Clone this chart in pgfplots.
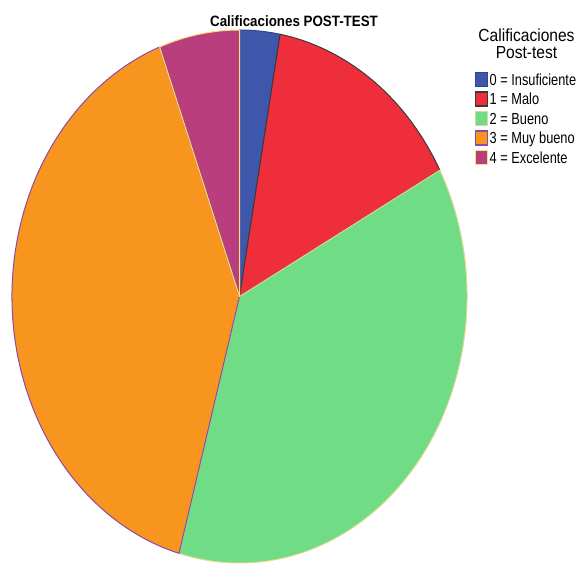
\documentclass[border=0pt]{standalone}
\usepackage{pgfplots}
\usepackage{pgfplotstable}
\usepackage{graphicx}
\usepackage{fontspec}
\setmainfont{Liberation Sans}
\pgfplotsset{compat=1.18}

\definecolor{cBlue}{HTML}{3F57AA}
\definecolor{eBlue}{HTML}{2E4590}
\definecolor{cRed}{HTML}{EE2F3B}
\definecolor{eRed}{HTML}{3A3A3A}
\definecolor{cGreen}{HTML}{70DC86}
\definecolor{eGreen}{HTML}{DCD88E}
\definecolor{cOrange}{HTML}{F7951F}
\definecolor{eOrange}{HTML}{8E4AA8}
\definecolor{cPurple}{HTML}{B93E7E}
\definecolor{ePurple}{HTML}{F2E27A}

\pgfplotstableread{
grade count
0 1
1 5
2 13
3 14
4 2
}\gradedata

\pgfplotstablegetelem{0}{count}\of\gradedata\let\nA\pgfplotsretval
\pgfplotstablegetelem{1}{count}\of\gradedata\let\nB\pgfplotsretval
\pgfplotstablegetelem{2}{count}\of\gradedata\let\nC\pgfplotsretval
\pgfplotstablegetelem{3}{count}\of\gradedata\let\nD\pgfplotsretval
\pgfplotstablegetelem{4}{count}\of\gradedata\let\nE\pgfplotsretval
\pgfmathsetmacro\tot{\nA+\nB+\nC+\nD+\nE}
\pgfmathsetmacro\aA{90}
\pgfmathsetmacro\aB{\aA-360*\nA/\tot}
\pgfmathsetmacro\aC{\aB-360*\nB/\tot}
\pgfmathsetmacro\aD{\aC-360*\nC/\tot}
\pgfmathsetmacro\aE{\aD-360*\nD/\tot}
\pgfmathsetmacro\aF{\aE-360*\nE/\tot}

% center and radii (in axis units = bp)
\def\cx{239.5}
\def\cy{269.5}
\def\rx{227.5}
\def\ry{266.5}

\newcommand\slice[4]{%
  \fill[fill=#1, draw=#2, line width=1bp, line join=round]
    (axis cs:\cx,\cy) --
    (axis cs:{\cx+\rx*cos(#3)},{\cy+\ry*sin(#3)})
    arc[start angle=#3, end angle=#4, x radius=\rx bp, y radius=\ry bp]
    -- cycle;}

\newcommand\legitem[4]{%
  \fill[fill=#1, draw=#2, line width=1.2bp] (axis cs:475.5,{#3-7}) rectangle (axis cs:487.5,{#3+7});
  \node[anchor=base west, inner sep=0pt] at (axis cs:489.5,{#3-5.6})
    {\fontsize{16bp}{19bp}\selectfont\scalebox{0.8}[1]{#4}};}

\begin{document}
\begin{tikzpicture}
\begin{axis}[
  width=579bp, height=566bp, scale only axis,
  xmin=0, xmax=579, ymin=0, ymax=566,
  hide axis, clip=false,
]
\coordinate (SW) at (axis cs:0,0);
\coordinate (NE) at (axis cs:579,566);
\slice{cBlue}{eBlue}{\aA}{\aB}
\slice{cRed}{eRed}{\aB}{\aC}
\slice{cGreen}{eGreen}{\aC}{\aD}
\slice{cOrange}{eOrange}{\aD}{\aE}
\slice{cPurple}{ePurple}{\aE}{\aF}

\node[anchor=base, inner sep=0pt] at (axis cs:294,539)
  {\fontsize{15bp}{18bp}\selectfont\scalebox{0.89}[1]{\bfseries Calificaciones POST-TEST}};

\node[anchor=base, inner sep=0pt] at (axis cs:526.5,524.3)
  {\fontsize{17.5bp}{21bp}\selectfont\scalebox{0.89}[1]{Calificaciones}};
\node[anchor=base, inner sep=0pt] at (axis cs:526.5,507.6)
  {\fontsize{17.5bp}{21bp}\selectfont\scalebox{0.89}[1]{Post-test}};

\legitem{cBlue}{eBlue}{486.5}{0 = Insuficiente}
\legitem{cRed}{eRed}{467}{1 = Malo}
\legitem{cGreen}{eGreen}{447.5}{2 = Bueno}
\legitem{cOrange}{eOrange}{428}{3 = Muy bueno}
\legitem{cPurple}{ePurple}{408.5}{4 = Excelente}
\end{axis}
\pgfresetboundingbox
\path (SW) rectangle (NE);
\end{tikzpicture}
\end{document}
